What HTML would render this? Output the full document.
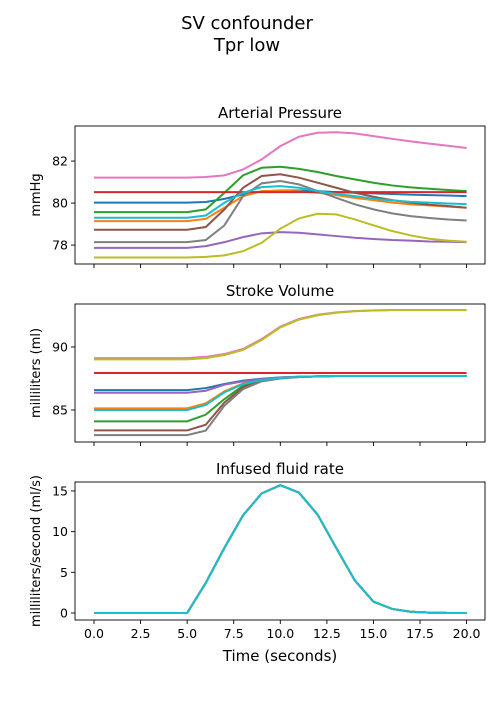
<!DOCTYPE html>
<html><head><meta charset="utf-8"><style>
body{margin:0;background:#fff;font-family:"DejaVu Sans","Liberation Sans",sans-serif}
svg text{font-family:"DejaVu Sans","Liberation Sans",sans-serif;fill:#000}
</style></head><body>
<svg id="chart" width="500" height="700" viewBox="0 0 500 700">
<text x="247" y="29" font-size="18" text-anchor="middle">SV confounder</text>
<text x="247" y="51" font-size="18" text-anchor="middle">Tpr low</text>
</svg>
<script>
const times=[0,1,2,3,4,5,6,7,8,9,10,11,12,13,14,15,16,17,18,19,20];
const colors=['#1f77b4','#ff7f0e','#2ca02c','#d62728','#9467bd','#8c564b','#e377c2','#7f7f7f','#bcbd22','#17becf'];
const apBlue=[80.02,80.02,80.02,80.02,80.02,80.02,80.05,80.2,80.41,80.56,80.6,80.6,80.57,80.52,80.49,80.46,80.43,80.4,80.38,80.36,80.33];
const apOrange=[79.14,79.14,79.14,79.14,79.14,79.14,79.25,79.78,80.33,80.57,80.59,80.56,80.49,80.38,80.25,80.14,80.02,79.94,79.89,79.83,79.78];
const apGreen=[79.57,79.57,79.57,79.57,79.57,79.57,79.7,80.49,81.32,81.68,81.73,81.63,81.48,81.29,81.13,80.97,80.84,80.75,80.68,80.62,80.57];
const apRed=[80.52,80.52,80.52,80.52,80.52,80.52,80.52,80.52,80.52,80.52,80.52,80.52,80.52,80.52,80.52,80.52,80.52,80.52,80.52,80.52,80.52];
const apPurple=[77.87,77.87,77.87,77.87,77.87,77.87,77.95,78.14,78.38,78.56,78.62,78.59,78.51,78.43,78.35,78.29,78.24,78.21,78.17,78.16,78.14];
const apBrown=[78.73,78.73,78.73,78.73,78.73,78.73,78.86,79.7,80.73,81.29,81.37,81.21,80.97,80.73,80.49,80.3,80.14,80.02,79.92,79.86,79.78];
const apPink=[81.21,81.21,81.21,81.21,81.21,81.21,81.24,81.32,81.6,82.08,82.71,83.16,83.35,83.37,83.32,83.19,83.06,82.94,82.83,82.73,82.62];
const apGray=[78.14,78.14,78.14,78.14,78.14,78.14,78.24,78.94,80.33,80.94,81.05,80.89,80.57,80.25,79.94,79.7,79.51,79.38,79.29,79.22,79.17];
const apOlive=[77.41,77.41,77.41,77.41,77.41,77.41,77.44,77.51,77.71,78.11,78.78,79.27,79.49,79.46,79.22,78.94,78.67,78.46,78.3,78.21,78.16];
const apCyan=[79.3,79.3,79.3,79.3,79.3,79.3,79.41,80.02,80.49,80.76,80.81,80.73,80.57,80.44,80.33,80.21,80.13,80.06,80.02,79.98,79.95];
const svBlue=[86.58,86.58,86.58,86.58,86.58,86.58,86.74,87.06,87.33,87.48,87.59,87.64,87.67,87.7,87.7,87.7,87.7,87.7,87.7,87.7,87.7];
const svOrange=[85.13,85.13,85.13,85.13,85.13,85.13,85.53,86.48,87.11,87.43,87.56,87.64,87.67,87.7,87.7,87.7,87.7,87.7,87.7,87.7,87.7];
const svGreen=[84.1,84.1,84.1,84.1,84.1,84.1,84.63,85.87,86.93,87.38,87.54,87.62,87.67,87.7,87.7,87.7,87.7,87.7,87.7,87.7,87.7];
const svRed=[87.93,87.93,87.93,87.93,87.93,87.93,87.93,87.93,87.93,87.93,87.93,87.93,87.93,87.93,87.93,87.93,87.93,87.93,87.93,87.93,87.93];
const svPurple=[86.37,86.37,86.37,86.37,86.37,86.37,86.53,87.01,87.27,87.46,87.58,87.64,87.67,87.7,87.7,87.7,87.7,87.7,87.7,87.7,87.7];
const svBrown=[83.38,83.38,83.38,83.38,83.38,83.38,83.83,85.6,86.8,87.33,87.52,87.62,87.67,87.7,87.7,87.7,87.7,87.7,87.7,87.7,87.7];
const svPink=[89.12,89.12,89.12,89.12,89.12,89.12,89.22,89.44,89.84,90.63,91.61,92.22,92.56,92.75,92.85,92.9,92.93,92.93,92.93,92.93,92.93];
const svGray=[83.01,83.01,83.01,83.01,83.01,83.01,83.36,85.34,86.66,87.27,87.5,87.61,87.67,87.7,87.7,87.7,87.7,87.7,87.7,87.7,87.7];
const svOlive=[89.02,89.02,89.02,89.02,89.02,89.02,89.12,89.36,89.76,90.55,91.55,92.17,92.52,92.72,92.83,92.89,92.92,92.92,92.92,92.92,92.92];
const svCyan=[85.0,85.0,85.0,85.0,85.0,85.0,85.4,86.4,87.06,87.38,87.54,87.63,87.67,87.7,87.7,87.7,87.7,87.7,87.7,87.7,87.7];
const rate=[0,0,0,0,0,0,3.7,8,12,14.7,15.7,14.8,12.1,8,4,1.4,0.5,0.15,0.05,0,0];
const xTicks=[0,2.5,5,7.5,10,12.5,15,17.5,20];
const xTickLabels=['0.0','2.5','5.0','7.5','10.0','12.5','15.0','17.5','20.0'];
const apTicks=[78,80,82];
const svTicks=[85,90];
const rateTicks=[0,5,10,15];

const svg=document.getElementById('chart');
const NS='http://www.w3.org/2000/svg';
function mk(tag,attrs){const e=document.createElementNS(NS,tag);for(const k in attrs)e.setAttribute(k,attrs[k]);svg.appendChild(e);return e;}
const L=75,R=485,X0=94,XS=18.63;
const xScale=t=>X0+t*XS;

function panel(key,top,bottom,ymin,ymax,yTicks,seriesList,title,ylabel,showXLabels){
  const ys=v=>bottom-(v-ymin)/(ymax-ymin)*(bottom-top);
  const t=mk('text',{x:(L+R)/2,y:top-8,'font-size':15,'text-anchor':'middle'});
  
  
  t.textContent=title;
  seriesList.forEach((s,i)=>{
    const p=mk('polyline',{points:times.map((tt,j)=>xScale(tt).toFixed(2)+','+ys(s[j]).toFixed(2)).join(' '),fill:'none',stroke:colors[i],'stroke-width':2});
    
    
  });
  const f=mk('rect',{x:L,y:top,width:R-L,height:bottom-top,fill:'none',stroke:'#000','stroke-width':0.9});
  
  
  yTicks.forEach(v=>{
    const y=ys(v);
    const tk=mk('line',{x1:L-4,x2:L,y1:y,y2:y,stroke:'#000','stroke-width':0.9});
    
    
    const tl=mk('text',{x:L-7,y:y+4.5,'font-size':12.5,'text-anchor':'end'});
    
    
    tl.textContent=v;
  });
  xTicks.forEach((v,i)=>{
    const x=xScale(v);
    const tk=mk('line',{x1:x,x2:x,y1:bottom,y2:bottom+4,stroke:'#000','stroke-width':0.9});
    
    
    if(showXLabels){
      const tl=mk('text',{x:x,y:bottom+18,'font-size':12.5,'text-anchor':'middle'});
      
      
      tl.textContent=xTickLabels[i];
    }
  });
  const yl=mk('text',{x:0,y:0,'font-size':13,'text-anchor':'middle',transform:'translate(40,'+((top+bottom)/2)+') rotate(-90)'});
  
  
  yl.textContent=ylabel;
}
panel('pressure',126,264,77.1,83.67,apTicks,[apBlue,apOrange,apGreen,apRed,apPurple,apBrown,apPink,apGray,apOlive,apCyan],'Arterial Pressure','mmHg',false);
panel('stroke-volume',304,442,82.46,93.41,svTicks,[svBlue,svOrange,svGreen,svRed,svPurple,svBrown,svPink,svGray,svOlive,svCyan],'Stroke Volume','milliliters (ml)',false);
panel('rate',482,620,-0.86,16.1,rateTicks,[rate,rate,rate,rate,rate,rate,rate,rate,rate,rate],'Infused fluid rate','milliliters/second (ml/s)',true);
const xl=mk('text',{x:(L+R)/2,y:661,'font-size':15,'text-anchor':'middle'});


xl.textContent='Time (seconds)';
</script>
</body></html>
